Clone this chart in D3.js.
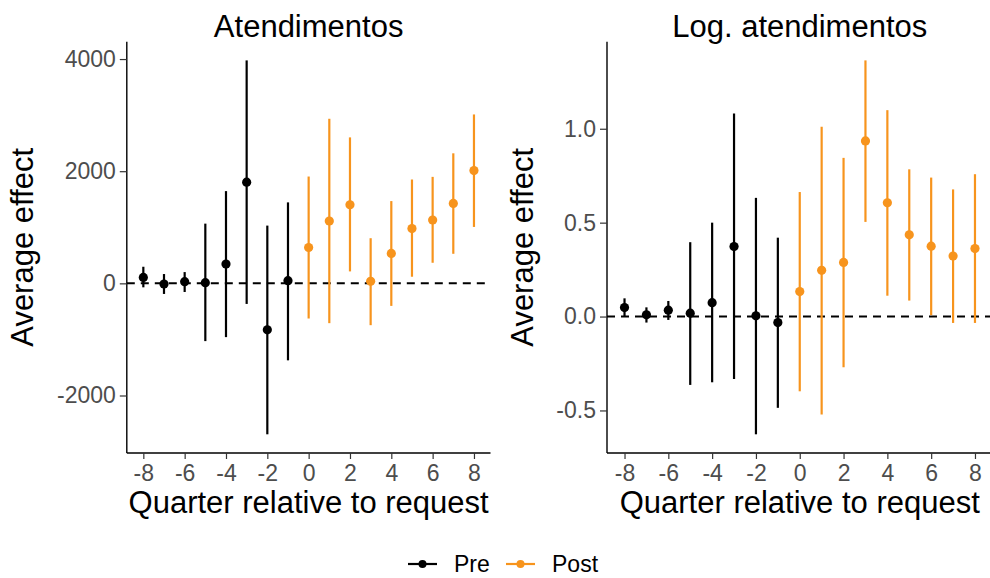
<!DOCTYPE html>
<html>
<head>
<meta charset="utf-8">
<script src="https://cdn.jsdelivr.net/npm/d3@7/dist/d3.min.js"></script>
<style>
  body { margin: 0; background: #fff; }
  svg { display: block; font-family: "Liberation Sans", Arial, sans-serif; }
</style>
</head>
<body>
<svg id="chart" width="990" height="578"></svg>
<script>
// Event-study estimates, quarter relative to request
const quarters = [-8, -7, -6, -5, -4, -3, -2, -1, 0, 1, 2, 3, 4, 5, 6, 7, 8];

// Atendimentos (levels)
const levelEst = [106, -12, 30, 12, 343, 1805, -828, 47, 639, 1112, 1402, 36, 533, 976, 1130, 1426, 2012];
const levelLo = [-71, -189, -154, -1030, -959, -367, -2692, -1373, -627, -710, 213, -746, -402, 118, 367, 527, 1006];
const levelHi = [296, 166, 201, 1065, 1645, 3976, 1030, 1444, 1905, 2935, 2603, 805, 1467, 1852, 1899, 2319, 3012];
const levelTicks = [-2000, 0, 2000, 4000];

// Log. atendimentos
const logEst = [0.048, 0.009, 0.034, 0.018, 0.074, 0.373, 0.004, -0.032, 0.133, 0.246, 0.288, 0.935, 0.606, 0.435, 0.375, 0.322, 0.362];
const logLo = [0.0, -0.032, -0.018, -0.364, -0.35, -0.332, -0.627, -0.486, -0.398, -0.521, -0.27, 0.504, 0.111, 0.085, 0.007, -0.034, -0.034];
const logHi = [0.097, 0.049, 0.083, 0.396, 0.5, 1.081, 0.632, 0.42, 0.663, 1.011, 0.845, 1.364, 1.099, 0.784, 0.74, 0.677, 0.758];
const logTicks = [-0.5, 0.0, 0.5, 1.0];

const xTicks = [-8, -6, -4, -2, 0, 2, 4, 6, 8];
const periodNames = ["Pre", "Post"];
const periodColors = ["#000000", "#f7941d"];

const svg = d3.select("#chart");
const plotTop = 41.7, plotBottom = 453;

function drawPanel(opts) {
  const rows = quarters.map((q, i) => ({
    q: q, est: opts.est[i], lo: opts.lo[i], hi: opts.hi[i],
    period: q < 0 ? 0 : 1
  }));

  // ggplot-style 5% expansion
  const xr = [-8, 8], xpad = (xr[1] - xr[0]) * 0.05;
  const x = d3.scaleLinear().domain([xr[0] - xpad, xr[1] + xpad]).range([opts.left, opts.right]);
  const yMin = d3.min(rows, d => d.lo), yMax = d3.max(rows, d => d.hi);
  const ypad = (yMax - yMin) * 0.05;
  const y = d3.scaleLinear().domain([yMin - ypad, yMax + ypad]).range([plotBottom, plotTop]);

  const g = svg.append("g");

  // zero reference line
  g.append("line")
    .attr("x1", opts.left).attr("x2", opts.right)
    .attr("y1", y(0)).attr("y2", y(0))
    .attr("stroke", "#000").attr("stroke-width", 2)
    .attr("stroke-dasharray", "8,6");

  // error bars
  g.selectAll(".bar").data(rows).enter().append("line")
    .attr("x1", d => x(d.q)).attr("x2", d => x(d.q))
    .attr("y1", d => y(d.lo)).attr("y2", d => y(d.hi))
    .attr("stroke", d => periodColors[d.period])
    .attr("stroke-width", 2.2);

  g.selectAll(".pt").data(rows).enter().append("circle")
    .attr("cx", d => x(d.q)).attr("cy", d => y(d.est))
    .attr("r", 4.6)
    .attr("fill", d => periodColors[d.period]);

  // axes
  const xAxis = g.append("g").attr("transform", "translate(0," + plotBottom + ")")
    .call(d3.axisBottom(x).tickValues(xTicks).tickSize(6).tickPadding(6).tickFormat(d => String(d)));
  const yAxis = g.append("g").attr("transform", "translate(" + opts.left + ",0)")
    .call(d3.axisLeft(y).tickValues(opts.ticks).tickSize(7).tickPadding(4).tickFormat(opts.fmt));

  [xAxis, yAxis].forEach(a => {
    a.select(".domain").attr("stroke", "#000").attr("stroke-width", 1.4);
    a.selectAll(".tick line").attr("stroke", "#333").attr("stroke-width", 1.2);
    a.selectAll(".tick text").attr("fill", "#4d4d4d")
      .style("font-size", "23px").style("font-family", "Liberation Sans, Arial, sans-serif");
  });
  xAxis.select(".domain").attr("d", "M" + opts.left + ",0H" + opts.right);
  yAxis.select(".domain").attr("d", "M0," + plotTop + "V" + plotBottom);

  // titles
  const cx = (opts.left + opts.right) / 2;
  g.append("text").attr("x", cx).attr("y", 37)
    .attr("text-anchor", "middle").style("font-size", "31px").text(opts.title);
  g.append("text").attr("x", cx).attr("y", 513)
    .attr("text-anchor", "middle").style("font-size", "31px").text("Quarter relative to request");
  g.append("text")
    .attr("transform", "translate(" + opts.yTitleX + "," + (plotTop + plotBottom) / 2 + ") rotate(-90)")
    .attr("text-anchor", "middle").style("font-size", "31px").text("Average effect");
}

drawPanel({
  title: "Atendimentos", est: levelEst, lo: levelLo, hi: levelHi,
  ticks: levelTicks, fmt: d => String(d),
  left: 126.8, right: 490.5, yTitleX: 33
});

drawPanel({
  title: "Log. atendimentos", est: logEst, lo: logLo, hi: logHi,
  ticks: logTicks, fmt: d => d.toFixed(1),
  left: 607, right: 992.5, yTitleX: 533
});

// legend
const legend = svg.append("g").attr("transform", "translate(0,564)");
const legendX = [408, 506];
periodNames.forEach((name, i) => {
  const lg = legend.append("g").attr("transform", "translate(" + legendX[i] + ",0)");
  lg.append("line").attr("x1", 0).attr("x2", 29).attr("y1", 0).attr("y2", 0)
    .attr("stroke", periodColors[i]).attr("stroke-width", 2.2);
  lg.append("circle").attr("cx", 14.5).attr("cy", 0).attr("r", 4).attr("fill", periodColors[i]);
  lg.append("text").attr("x", 46).attr("y", 0).attr("dy", "0.35em")
    .style("font-size", "23px").text(name);
});
</script>
</body>
</html>
